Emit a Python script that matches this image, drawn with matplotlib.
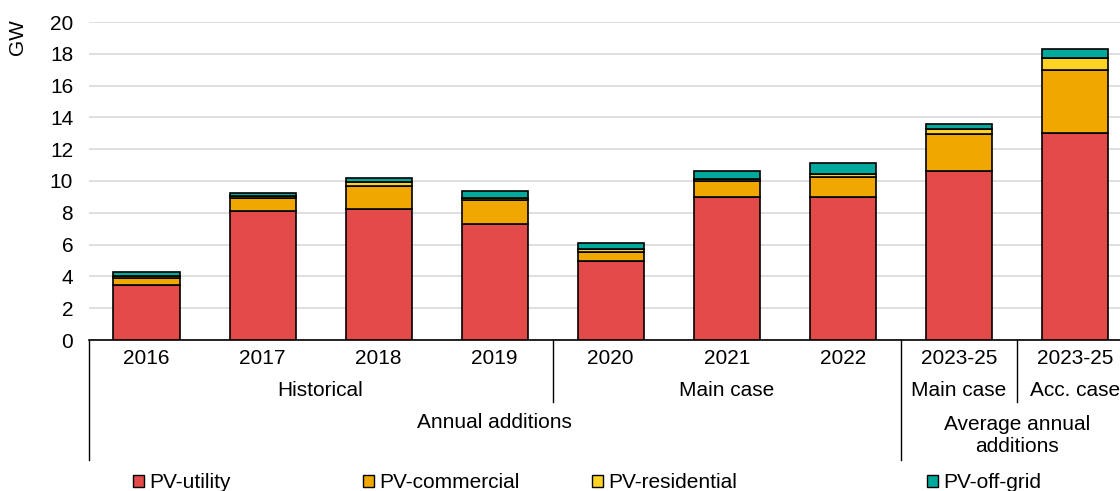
import matplotlib
matplotlib.use("Agg")
import matplotlib.pyplot as plt
import matplotlib.transforms as mtransforms
from matplotlib.patches import Patch
from matplotlib.lines import Line2D
import numpy as np

plt.rcParams['font.family'] = ['Liberation Sans', 'DejaVu Sans']
FS = 15
plt.rcParams['font.size'] = FS

# data (GW)
years = ["2016", "2017", "2018", "2019", "2020", "2021", "2022", "2023-25", "2023-25"]
utility = [3.45, 8.13, 8.24, 7.31, 5.0, 8.97, 8.97, 10.6, 13.02]
commercial = [0.45, 0.78, 1.46, 1.5, 0.55, 1.03, 1.26, 2.33, 3.98]
residential = [0.1, 0.15, 0.24, 0.15, 0.15, 0.15, 0.23, 0.36, 0.74]
offgrid = [0.25, 0.2, 0.26, 0.38, 0.42, 0.5, 0.65, 0.27, 0.54]

series_names = ["PV-utility", "PV-commercial", "PV-residential", "PV-off-grid"]
colors = ["#E24B4A", "#F0A800", "#FFD324", "#00A99B"]

# group labels: (label, first index, last index)
level2 = [("Historical", 0, 3), ("Main case", 4, 6), ("Main case", 7, 7), ("Acc. case", 8, 8)]
level3 = [("Annual additions", 0, 6), ("Average annual\nadditions", 7, 8)]

W, H = 1120, 491
fig = plt.figure(figsize=(W / 100, H / 100), dpi=100)
ax = fig.add_axes([88.5 / W, 1 - 340 / H, 1044.5 / W, 318 / H])

x = np.arange(len(years))
bottom = np.zeros(len(years))
handles = []
for vals, name, c in zip([utility, commercial, residential, offgrid], series_names, colors):
    ax.bar(x, vals, width=0.57, bottom=bottom, color=c, edgecolor="black", linewidth=1.2, zorder=3)
    bottom += np.array(vals)
    handles.append(Patch(facecolor=c, edgecolor="black", linewidth=1.0, label=name))

ax.set_xlim(-0.5, len(years) - 0.5)
ax.set_ylim(0, 20)
ax.set_yticks(range(0, 21, 2))
ax.yaxis.grid(True, color="#D9D9D9", linewidth=1.2, zorder=0)
ax.set_axisbelow(True)
ax.tick_params(axis="y", length=0, pad=11, labelsize=FS)
ax.set_xticks([])
for s in ["top", "right", "left"]:
    ax.spines[s].set_visible(False)
ax.spines["bottom"].set_linewidth(1.2)
ax.spines["bottom"].set_color("black")

fig.text(17 / W, 1 - 37 / H, "GW", rotation=90, ha="center", va="center", fontsize=FS)

# category table under the axis
trans = mtransforms.blended_transform_factory(ax.transData, fig.transFigure)
fy = lambda py: 1 - py / H

for i, lab in enumerate(years):
    ax.text(i, fy(359), lab, transform=trans, ha="center", va="center")
for lab, a, b in level2:
    ax.text((a + b) / 2, fy(391), lab, transform=trans, ha="center", va="center")
ax.text(3, fy(423), level3[0][0], transform=trans, ha="center", va="center")
ax.text(7.5, fy(436), level3[1][0], transform=trans, ha="center", va="center",
        linespacing=1.2)

for xb, yend in [(-0.5, 460), (3.5, 402), (6.5, 460), (7.5, 402)]:
    ax.add_line(Line2D([xb, xb], [fy(340), fy(yend)], transform=trans, color="black",
                       linewidth=1.0, clip_on=False))

# legend entries placed like the original
leg_x = [133, 363, 592, 927]
for h, lx in zip(handles, leg_x):
    fig.legend(handles=[h], loc="center left", bbox_to_anchor=(lx / W, fy(483)),
               frameon=False, borderpad=0, borderaxespad=0, handlelength=0.55,
               handleheight=0.55, handletextpad=0.25, fontsize=FS)

fig.savefig("out.png", dpi=100)
